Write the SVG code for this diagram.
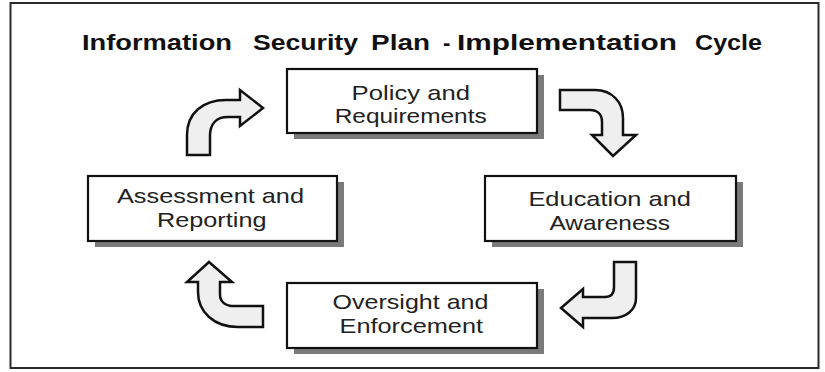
<svg xmlns="http://www.w3.org/2000/svg" width="825" height="372" viewBox="0 0 825 372">
  <style>
    .frame { fill: none; stroke: #2a2a2a; stroke-width: 2; }
    .title { font-family: "Liberation Sans", Arial, sans-serif; font-weight: bold; font-size: 22px; fill: #111; }
    .box { fill: #ffffff; stroke: #111; stroke-width: 2.2; }
    .shadow { fill: #7a7a7a; }
    .label { font-family: "Liberation Sans", Arial, sans-serif; font-size: 21px; fill: #222; }
    .arrow { fill: #efefef; stroke: #111; stroke-width: 2.5; stroke-linejoin: miter; }
  </style>

  <rect x="0" y="0" width="825" height="372" fill="#ffffff"/>
  <rect class="frame" x="10.5" y="3" width="808" height="365"/>

  <!-- heading -->
  <g id="title">
    <text class="title" x="82" y="50" textLength="150" lengthAdjust="spacingAndGlyphs">Information</text>
    <text class="title" x="253" y="50" textLength="105" lengthAdjust="spacingAndGlyphs">Security</text>
    <text class="title" x="371" y="50" textLength="59" lengthAdjust="spacingAndGlyphs">Plan</text>
    <text class="title" x="443" y="50">-</text>
    <text class="title" x="457" y="50" textLength="220" lengthAdjust="spacingAndGlyphs">Implementation</text>
    <text class="title" x="695" y="50" textLength="67" lengthAdjust="spacingAndGlyphs">Cycle</text>
  </g>

  <!-- cycle arrows -->
  <g id="connectors">
    <path id="arrow-assessment-policy" class="arrow" d="M187,155 L187,135 C187,113 203,100 226,100 L240,100 L240,90 L263,108 L240,126 L240,117 L228,117 C216,117 210,124 210,136 L210,155 Z"/>
    <path id="arrow-policy-education" class="arrow" d="M560,90 L595,90 C612,90 623,102 623,118 L623,135 L636,135 L613,156 L592,135 L602,135 L602,122 C602,114 597,110 590,110 L560,110 Z"/>
    <path id="arrow-education-oversight" class="arrow" d="M614,262 L636,262 L636,298 C636,310 626,318 612,318 L583,318 L583,327 L561,308 L583,289 L583,297 L605,297 C611,297 614,293 614,287 Z"/>
    <path id="arrow-oversight-assessment" class="arrow" d="M263,306 L263,327 L238,327 C214,327 198,312 198,292 L198,282 L187,282 L209,262 L232,282 L220,282 L220,295 C220,302 226,306 234,306 Z"/>
  </g>

  <g id="policy">
    <rect class="shadow" x="294" y="75" width="250" height="64"/>
    <rect class="box" x="287" y="69" width="250" height="64"/>
    <text class="label" x="351.6" y="100" textLength="118.4" lengthAdjust="spacingAndGlyphs">Policy and</text>
    <text class="label" x="334.7" y="123" textLength="152" lengthAdjust="spacingAndGlyphs">Requirements</text>
  </g>

  <g id="education">
    <rect class="shadow" x="492" y="182" width="251" height="65"/>
    <rect class="box" x="485" y="176" width="251" height="65"/>
    <text class="label" x="528.4" y="206" textLength="162.6" lengthAdjust="spacingAndGlyphs">Education and</text>
    <text class="label" x="549.5" y="230" textLength="120.5" lengthAdjust="spacingAndGlyphs">Awareness</text>
  </g>

  <g id="oversight">
    <rect class="shadow" x="294" y="289" width="250" height="65"/>
    <rect class="box" x="287" y="283" width="250" height="65"/>
    <text class="label" x="332.6" y="309" textLength="155.8" lengthAdjust="spacingAndGlyphs">Oversight and</text>
    <text class="label" x="339.5" y="333" textLength="143.5" lengthAdjust="spacingAndGlyphs">Enforcement</text>
  </g>

  <g id="assessment">
    <rect class="shadow" x="95" y="182" width="249" height="65"/>
    <rect class="box" x="88" y="176" width="249" height="65"/>
    <text class="label" x="117" y="203" textLength="187" lengthAdjust="spacingAndGlyphs">Assessment and</text>
    <text class="label" x="157" y="227" textLength="109.5" lengthAdjust="spacingAndGlyphs">Reporting</text>
  </g>
</svg>
